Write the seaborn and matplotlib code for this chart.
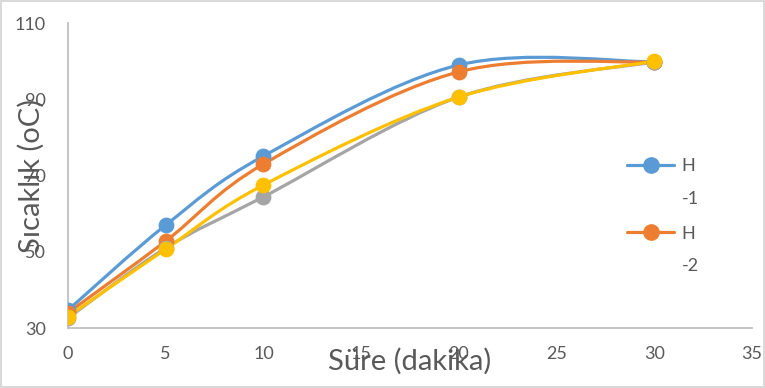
import matplotlib
matplotlib.use("Agg")
import matplotlib.pyplot as plt
from matplotlib.path import Path
from matplotlib.patches import PathPatch
from matplotlib.lines import Line2D
import seaborn as sns
import pandas as pd

# ---- data ----
time_min = [0, 5, 10, 20, 30]
h1 = [34.7, 57.0, 75.1, 99.0, 99.8]
h2 = [34.0, 52.8, 73.0, 97.2, 99.8]
h3 = [32.6, 51.0, 64.4, 90.6, 99.8]
h4 = [33.0, 50.7, 67.5, 90.6, 100.0]
series_names = ["H-1", "H-2", "H-3", "H-4"]
legend_first = ["H", "H"]
legend_second = ["-1", "-2"]
x_ticks = [0, 5, 10, 15, 20, 25, 30, 35]
y_ticks = [30, 50, 70, 90, 110]
colors = ["#5B9BD5", "#ED7D31", "#A5A5A5", "#FFC000"]

sns.set_theme(style="white")
plt.rcParams["font.family"] = ["Lato", "DejaVu Sans"]

fig = plt.figure(figsize=(7.65, 3.88), dpi=100)
fig.patch.set_edgecolor("#D9D9D9")
fig.patch.set_linewidth(1.5)
ax = fig.add_axes([0.0889, 0.1546, 0.894, 0.786])

frames = []
for name, vals in zip(series_names, [h1, h2, h3, h4]):
    frames.append(pd.DataFrame({"time": time_min, "temp": vals, "series": name}))
df = pd.concat(frames, ignore_index=True)


def smooth_path(xs, ys):
    pts = list(zip(xs, ys))
    n = len(pts)
    verts = [pts[0]]
    codes = [Path.MOVETO]
    for i in range(n - 1):
        p0 = pts[i - 1] if i > 0 else pts[i]
        p1 = pts[i]
        p2 = pts[i + 1]
        p3 = pts[i + 2] if i + 2 < n else pts[i + 1]
        c1 = (p1[0] + (p2[0] - p0[0]) / 6, p1[1] + (p2[1] - p0[1]) / 6)
        c2 = (p2[0] - (p3[0] - p1[0]) / 6, p2[1] - (p3[1] - p1[1]) / 6)
        verts += [c1, c2, p2]
        codes += [Path.CURVE4] * 3
    return Path(verts, codes)


for name, col in zip(series_names, colors):
    sub = df[df["series"] == name]
    ax.add_patch(PathPatch(smooth_path(sub["time"].tolist(), sub["temp"].tolist()),
                           facecolor="none", edgecolor=col, lw=2.3, zorder=2,
                           capstyle="round"))
    sns.scatterplot(data=sub, x="time", y="temp", color=col, s=130,
                    edgecolor=col, linewidth=0, ax=ax, zorder=3, legend=False)

ax.set_xlim(0, 35)
ax.set_ylim(30, 110)
ax.set_xticks(x_ticks)
ax.set_yticks(y_ticks)
ax.tick_params(axis="both", length=0, labelsize=13, colors="#595959")
ax.tick_params(axis="y", pad=16)
ax.tick_params(axis="x", pad=13)
for s in ["top", "right"]:
    ax.spines[s].set_visible(False)
for s in ["left", "bottom"]:
    ax.spines[s].set_color("#BFBFBF")
    ax.spines[s].set_linewidth(1.3)
ax.grid(False)

ax.set_xlabel("Süre (dakika)", fontsize=21, color="#595959")
ax.set_ylabel("Sıcaklık (oC)", fontsize=21, color="#595959")
ax.xaxis.set_label_coords(0.5, -0.065)
ax.yaxis.set_label_coords(-0.034, 0.5)

handles = [Line2D([0], [0], color=c, lw=2.3, marker="o", markersize=11)
           for c in colors[:2]]
leg = ax.legend(handles, legend_first, loc="upper left",
                bbox_to_anchor=(0.794, 0.61), frameon=False, fontsize=13,
                handlelength=2.6, labelspacing=2.85, handletextpad=0.4,
                labelcolor="#595959")

fig.canvas.draw()
inv = ax.transAxes.inverted()
for t, extra in zip(leg.get_texts(), legend_second):
    bb = t.get_window_extent()
    x0, y0 = inv.transform((bb.x0, bb.y0))
    ax.text(x0, y0 - 0.055, extra, transform=ax.transAxes, fontsize=13,
            color="#595959", ha="left", va="top")

fig.savefig("out.png", dpi=100)
